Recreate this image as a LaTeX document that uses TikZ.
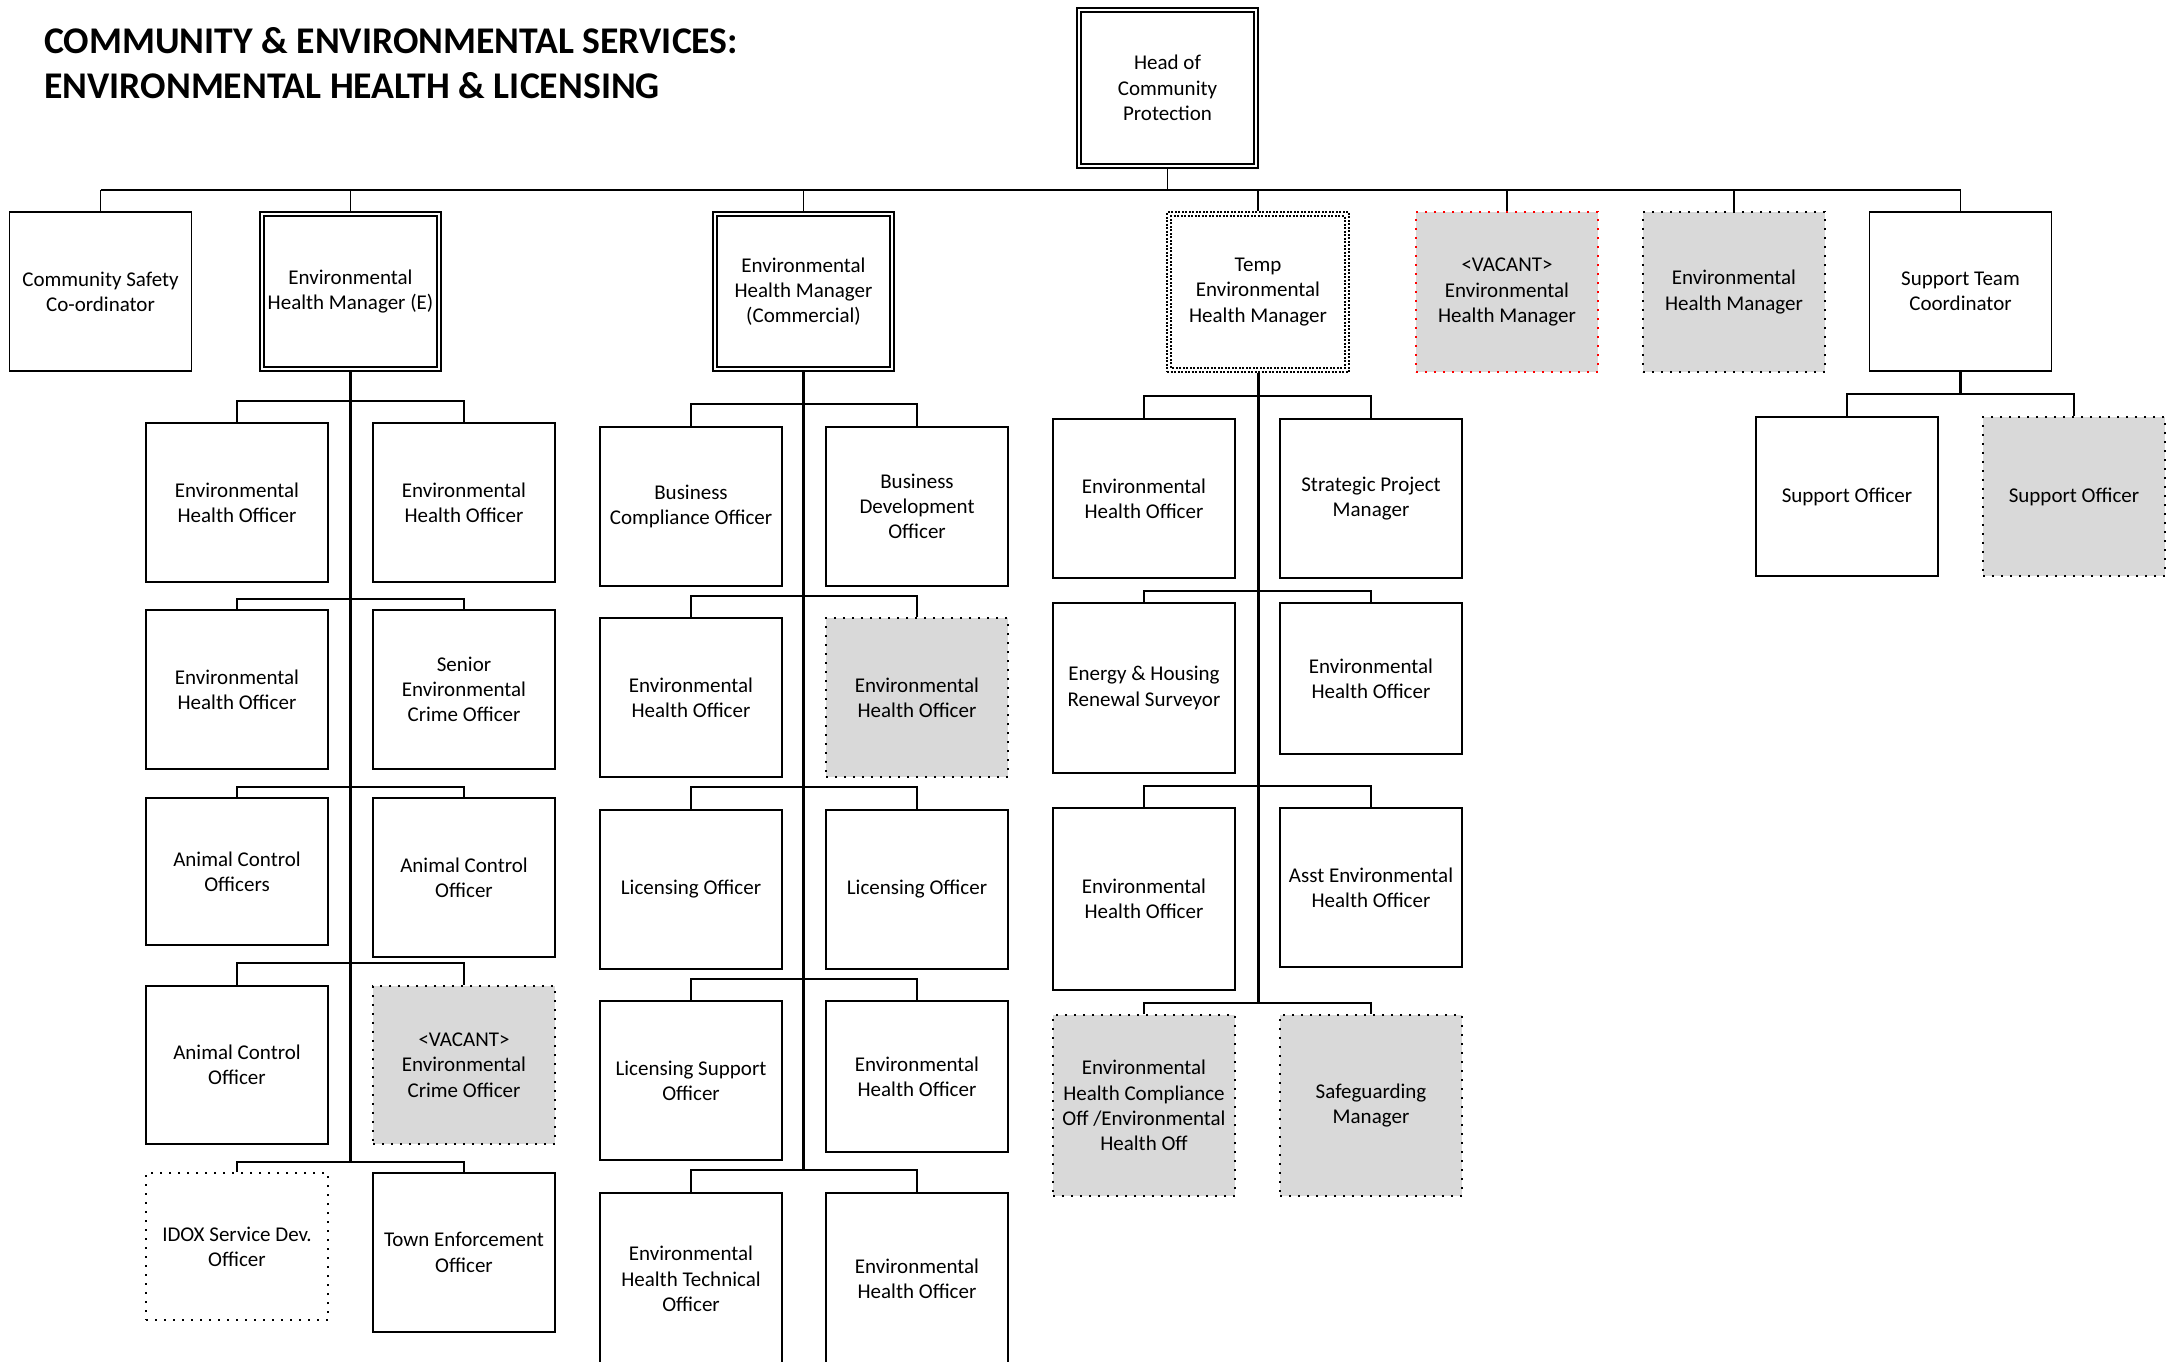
\documentclass[tikz,border=0pt]{standalone}
\usepackage{fontspec}
\setmainfont{Carlito}
\definecolor{vgray}{HTML}{D9D9D9}
\definecolor{vred}{HTML}{FF0000}
\begin{document}
\begin{tikzpicture}[x=1pt,y=-1pt,
  box/.style={draw=black, line width=1.6pt, rectangle, inner sep=0pt, align=center,
    minimum width=182pt, minimum height=159pt, fill=white,
    font=\fontsize{21}{25.3}\selectfont},
  dotbox/.style={box, dash pattern=on 2pt off 7pt, line width=2pt},
  vacant/.style={dotbox, fill=vgray},
  redvacant/.style={vacant, draw=vred},
  tempbox/.style={box, dash pattern=on 2pt off 1.5pt},
  innerline/.style={draw=black, line width=1.6pt},
  tempinner/.style={innerline, dash pattern=on 2pt off 1.5pt},
  conn/.style={draw=black, line width=1.6pt},
  spine/.style={draw=black, line width=3pt},
  busline/.style={draw=black, line width=2.6pt},
  title/.style={anchor=base west, inner sep=0pt, font=\bfseries\fontsize{37.7}{45}\selectfont}
]
\useasboundingbox[fill=white] (0,0) rectangle (2168,1361);

% heading
\node[title] (title1) at (44,53.3) {COMMUNITY \& ENVIRONMENTAL SERVICES:};
\node[title] (title2) at (44,98.3) {ENVIRONMENTAL HEALTH \& LICENSING};

% head of service
\node[box, minimum width=181pt, minimum height=160pt] (head) at (1167.5,88) {Head of\\Community\\Protection};

% first tier
\node[box] (cs) at (100.5,291.5) {Community Safety\\Co-ordinator};
\node[box, minimum width=181pt] (ehmE) at (350.5,291.5) {Environmental\\Health Manager (E)};
\node[box, minimum width=181pt] (ehmC) at (803.5,291.5) {Environmental\\Health Manager\\(Commercial)};
\node[tempbox, minimum height=160pt] (temp) at (1258,292) {Temp\\Environmental\\Health Manager};
\node[redvacant, minimum height=160pt] (vacm) at (1507,292) {<VACANT>\\Environmental\\Health Manager};
\node[vacant, minimum height=160pt] (ehmG) at (1734,292) {Environmental\\Health Manager};
\node[box] (stc) at (1960.5,291.5) {Support Team\\Coordinator};

% double borders
\foreach \n in {head,ehmE,ehmC}
  \draw[innerline] ([shift={(5pt,5pt)}]\n.south west) rectangle ([shift={(-5pt,-5pt)}]\n.north east);
\draw[tempinner] ([shift={(5pt,5pt)}]temp.south west) rectangle ([shift={(-5pt,-5pt)}]temp.north east);

% top bus
\coordinate (bus) at (1167.5,190);
\draw[busline] (cs.north |- bus) -- (stc.north |- bus);
\draw[conn] (head.south) -- (bus);
\foreach \n in {cs,ehmE,ehmC,temp,vacm,ehmG,stc}
  \draw[conn] (\n.north) -- (\n.north |- bus);

% ---- Environmental Health Manager (E) team
\node[box] (e1l) at (237,502.5) {Environmental\\Health Officer};
\node[box] (e1r) at (464,502.5) {Environmental\\Health Officer};
\node[box] (e2l) at (237,689.5) {Environmental\\Health Officer};
\node[box] (e2r) at (464,689.5) {Senior\\Environmental\\Crime Officer};
\node[box, minimum height=147pt] (e3l) at (237,871.5) {Animal Control\\Officers};
\node[box] (e3r) at (464,877.5) {Animal Control\\Officer};
\node[box, minimum height=158pt] (e4l) at (237,1065) {Animal Control\\Officer};
\node[vacant, minimum height=158pt] (e4r) at (464,1065) {<VACANT>\\Environmental\\Crime Officer};
\node[dotbox, minimum height=147pt] (e5l) at (237,1246.5) {IDOX Service Dev.\\Officer};
\node[box] (e5r) at (464,1252.5) {Town Enforcement\\Officer};

\coordinate (ce1) at (350.5,401);
\coordinate (ce2) at (350.5,599);
\coordinate (ce3) at (350.5,787);
\coordinate (ce4) at (350.5,963);
\coordinate (ce5) at (350.5,1162);
\draw[spine] (ehmE.south) -- (ce5);
\foreach \r in {1,...,5}
  \draw[conn] (e\r l.north) |- (ce\r) -| (e\r r.north);

% ---- Environmental Health Manager (Commercial) team
\node[box] (c1l) at (691,506.5) {Business\\Compliance Officer};
\node[box] (c1r) at (917,506.5) {Business\\Development\\Officer};
\node[box] (c2l) at (691,697.5) {Environmental\\Health Officer};
\node[vacant] (c2r) at (917,697.5) {Environmental\\Health Officer};
\node[box] (c3l) at (691,889.5) {Licensing Officer};
\node[box] (c3r) at (917,889.5) {Licensing Officer};
\node[box] (c4l) at (691,1080.5) {Licensing Support\\Officer};
\node[box, minimum height=151pt] (c4r) at (917,1076.5) {Environmental\\Health Officer};
\node[box, minimum height=172pt] (c5l) at (691,1279) {Environmental\\Health Technical\\Officer};
\node[box, minimum height=172pt] (c5r) at (917,1279) {Environmental\\Health Officer};

\coordinate (cc1) at (803.5,404);
\coordinate (cc2) at (803.5,596);
\coordinate (cc3) at (803.5,787);
\coordinate (cc4) at (803.5,979);
\coordinate (cc5) at (803.5,1170);
\draw[spine] (ehmC.south) -- (cc5);
\foreach \r in {1,...,5}
  \draw[conn] (c\r l.north) |- (cc\r) -| (c\r r.north);

% ---- Temp Environmental Health Manager team
\node[box] (t1l) at (1144,498.5) {Environmental\\Health Officer};
\node[box] (t1r) at (1371,498.5) {Strategic Project\\Manager};
\node[box, minimum height=170pt] (t2l) at (1144,688) {Energy \& Housing\\Renewal Surveyor};
\node[box, minimum height=151pt] (t2r) at (1371,678.5) {Environmental\\Health Officer};
\node[box, minimum height=182pt] (t3l) at (1144,899) {Environmental\\Health Officer};
\node[box] (t3r) at (1371,887.5) {Asst Environmental\\Health Officer};
\node[vacant, minimum height=181pt] (t4l) at (1144,1105.5) {Environmental\\Health Compliance\\Off /Environmental\\Health Off};
\node[vacant, minimum height=181pt] (t4r) at (1371,1105.5) {Safeguarding\\Manager};

\coordinate (ct1) at (1258,396);
\coordinate (ct2) at (1258,591);
\coordinate (ct3) at (1258,786);
\coordinate (ct4) at (1258,1003);
\draw[spine] (temp.south) -- (ct4);
\foreach \r in {1,...,4}
  \draw[conn] (t\r l.north) |- (ct\r) -| (t\r r.north);

% ---- Support team
\node[box] (s1) at (1847,496.5) {Support Officer};
\node[vacant] (s2) at (2074,496.5) {Support Officer};
\coordinate (cs1) at (1960.5,394);
\draw[spine] (stc.south) -- (cs1);
\draw[conn] (s1.north) |- (cs1) -| (s2.north);
\end{tikzpicture}
\end{document}
